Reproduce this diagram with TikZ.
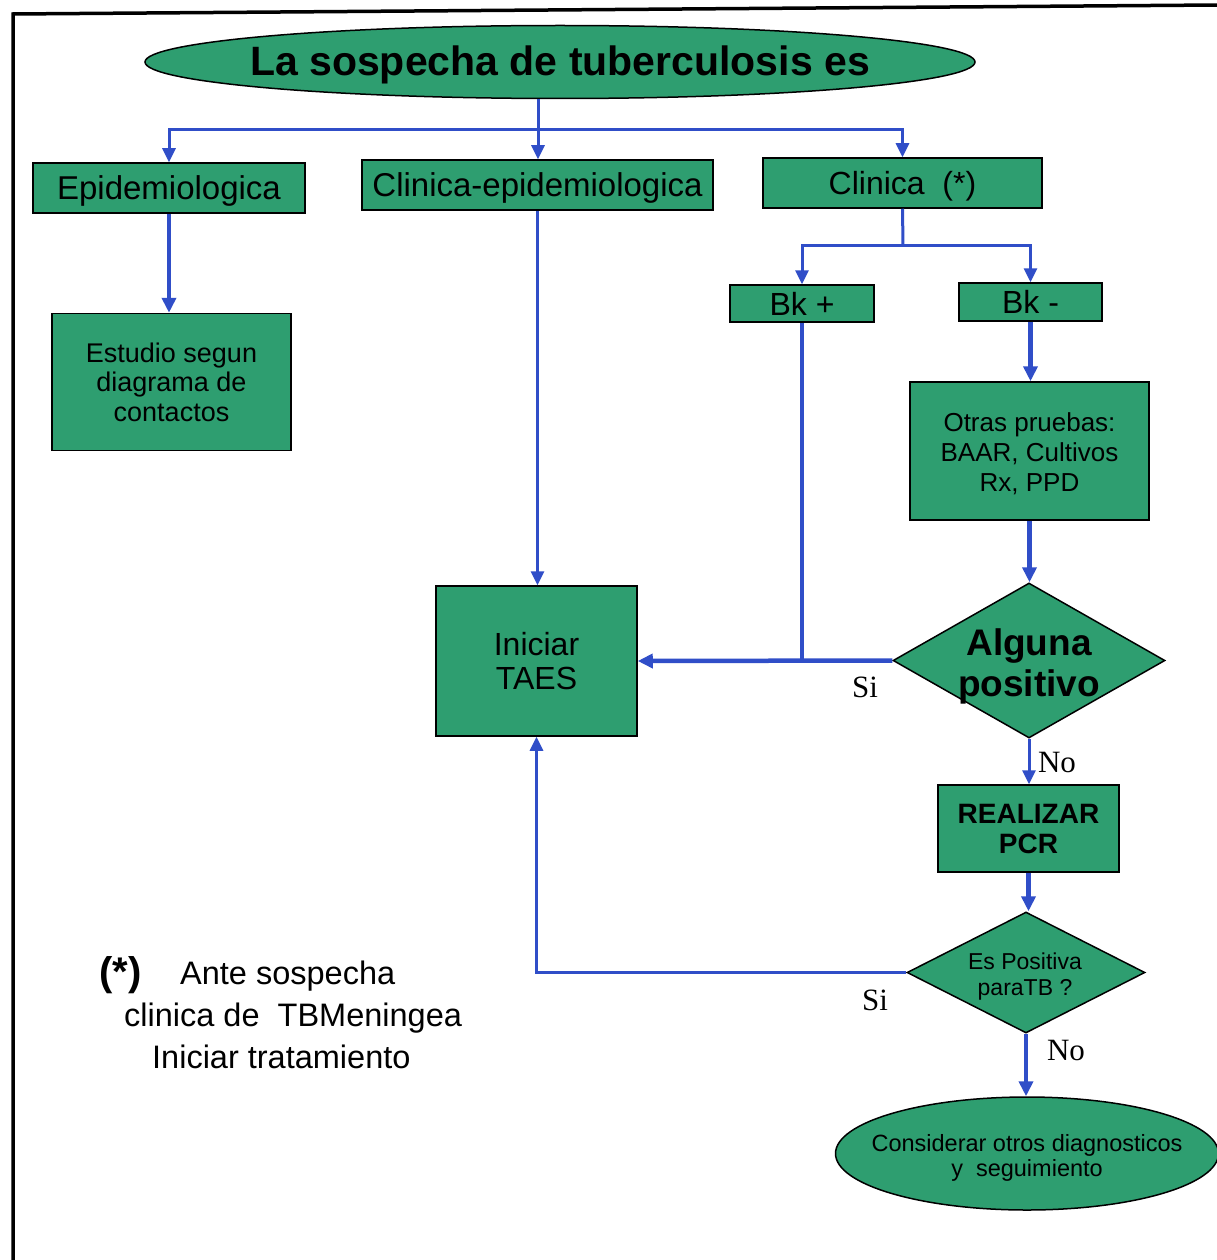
\documentclass[tikz,border=0pt]{standalone}
\usepackage{fontspec}
\setmainfont{Liberation Sans}
\newfontfamily\timesf{Liberation Serif}
\usetikzlibrary{arrows.meta,shapes.geometric}
\definecolor{boxgreen}{RGB}{46,158,112}
\definecolor{linkblue}{RGB}{48,78,200}
\newcommand{\fs}[2]{\fontsize{#1}{#2}\selectfont}
\begin{document}
\begin{tikzpicture}[x=1pt,y=-1pt,
  box/.style={draw=black,line width=1.5pt,fill=boxgreen,inner sep=0pt,align=center},
  oneline/.style={text height=23.5pt,text depth=0pt},
  shapebg/.style={draw=black,line width=1.5pt,fill=boxgreen,inner sep=0pt},
  txt/.style={align=center,inner sep=0pt},
  link/.style={draw=linkblue,line width=3pt,-{Triangle[length=14pt,width=13pt]}},
  thicklink/.style={draw=linkblue,line width=4.5pt,-{Triangle[length=15pt,width=14pt]}},
  plain/.style={draw=linkblue,line width=3pt},
  thickplain/.style={draw=linkblue,line width=4.5pt},
  lab/.style={font=\timesf\fs{31}{36},inner sep=0pt}]
\useasboundingbox (0,0) rectangle (1216,1260);
\fill[white] (0,0) rectangle (1216,1260);
% frame
\draw[line width=3.5pt] (13,1262) -- (13,14) -- (1218,5);

% nodes
\node[ellipse,shapebg,minimum width=830pt,minimum height=73pt] (title) at (560,62) {};
\node[txt,font=\bfseries\fs{41}{46}] (titletxt) at (560,65) {La sospecha de tuberculosis es};

\node[box,oneline,minimum width=272pt,minimum height=50pt,font=\fs{33}{36}] (epi) at (169,188) {Epidemiologica};
\node[box,oneline,minimum width=351pt,minimum height=50pt,font=\fs{33}{36}] (cepi) at (537.5,185) {Clinica-epidemiologica};
\node[box,oneline,minimum width=279pt,minimum height=50pt,font=\fs{32}{36}] (cli) at (902.5,183) {Clinica\ \ (*)};
\node[box,oneline,minimum width=144pt,minimum height=37pt,font=\fs{32}{36}] (bkp) at (802,303.5) {Bk +};
\node[box,oneline,minimum width=143pt,minimum height=38pt,font=\fs{32}{36}] (bkm) at (1030.5,302) {Bk -};
\node[box,minimum width=239pt,minimum height=137pt,font=\fs{27}{29.5}] (est) at (171.5,382) {Estudio segun\\diagrama de\\contactos};
\node[box,minimum width=201pt,minimum height=150pt,font=\fs{32}{34}] (taes) at (536.5,661) {Iniciar\\TAES};
\node[shapebg,minimum width=239pt,minimum height=138pt] (otras) at (1029.5,451) {};
\node[txt,font=\fs{26}{30}] (otrastxt) at (1029.5,454) {Otras pruebas:\\BAAR, Cultivos\\Rx, PPD};
\node[diamond,shapebg,minimum width=272pt,minimum height=155pt] (alg) at (1029,660.5) {};
\node[txt,font=\bfseries\fs{37}{41}] (algtxt) at (1029,666) {Alguna\\positivo};
\node[box,minimum width=181pt,minimum height=87pt,font=\bfseries\fs{28}{30}] (pcr) at (1028.5,828.5) {REALIZAR\\PCR};
\node[diamond,shapebg,minimum width=238pt,minimum height=121pt] (esp) at (1026,972.5) {};
\node[txt,font=\fs{23}{26}] (esptxt) at (1025,977) {Es Positiva\\paraTB ?};
\node[ellipse,shapebg,minimum width=383pt,minimum height=113pt] (cons) at (1027,1153.5) {};
\node[txt,font=\fs{23.5}{25}] (constxt) at (1027,1157.5) {Considerar otros diagnosticos\\y\ \ seguimiento};

% footnote
\node[anchor=base west,inner sep=0pt,font=\bfseries\fs{40}{44}] (fstar) at (99,985) {(*)};
\node[anchor=base west,inner sep=0pt,font=\fs{32.5}{36}] (fn1) at (180,984) {Ante sospecha};
\node[anchor=base west,inner sep=0pt,font=\fs{32.5}{36}] (fn2) at (124,1026) {clinica de\ \ TBMeningea};
\node[anchor=base west,inner sep=0pt,font=\fs{32.5}{36}] (fn3) at (152,1068) {Iniciar tratamiento};

% connectors
\coordinate (j1) at (538,130);
\draw[plain] (j1 |- title.south) -- (j1);
\draw[link] (j1) -| (epi.north);
\draw[link] (j1) -- (j1 |- cepi.north);
\draw[link] (j1) -| (cli.north);

\coordinate (j2) at (903,245);
\draw[plain] (cli.south) -- (j2);
\draw[link] (j2) -| (bkp.north);
\draw[link] (j2) -| (bkm.north);

\draw[thicklink] (epi.south) -- (epi.south |- est.north);
\draw[link] (cepi.south) -- (cepi.south |- taes.north);
\draw[thicklink] (bkm.south) -- (bkm.south |- otras.north);
\draw[thicklink] (otras.south) -- (otras.south |- alg.north);
\draw[thickplain] (bkp.south) -- (bkp.south |- alg.west);
\draw[thicklink] (alg.west) -- (taes.east);
\draw[link] (alg.south) -- (alg.south |- pcr.north);
\draw[thicklink] (pcr.south) -- (pcr.south |- esp.north);
\draw[link] (esp.west) -| (taes.south);
\draw[thicklink] (esp.south) -- (esp.south |- cons.north);

% labels
\node[lab] (si1) at (865,687) {Si};
\node[lab] (no1) at (1057,762) {No};
\node[lab] (si2) at (875,1000) {Si};
\node[lab] (no2) at (1066,1050) {No};
\end{tikzpicture}
\end{document}
